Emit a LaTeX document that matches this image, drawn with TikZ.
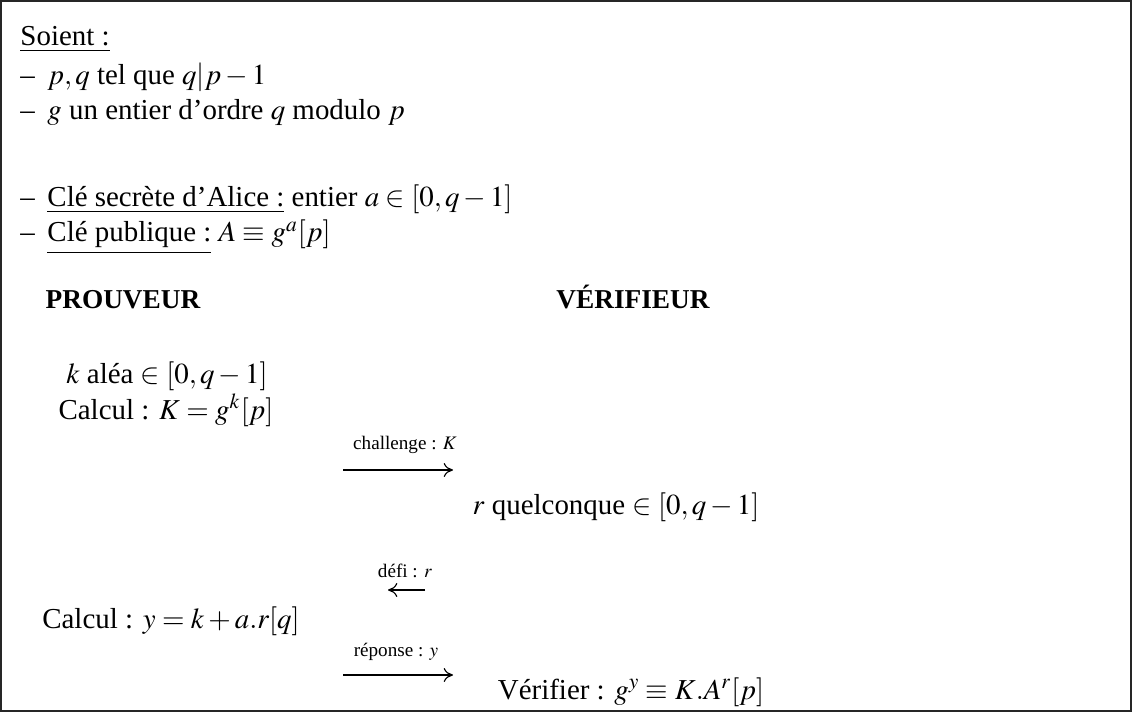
\documentclass[tikz,border=0pt]{standalone}
\usepackage{mathptmx}
\usepackage{fontspec}
\setmainfont{Liberation Serif}
\usetikzlibrary{arrows.meta}
\begin{document}
\begin{tikzpicture}[x=0.4286pt,y=-0.4286pt,
  txt/.style={inner sep=0pt,font=\fontsize{12.4}{14}\selectfont},
  lft/.style={txt,anchor=base west},
  ctr/.style={txt,anchor=base},
  head/.style={txt,anchor=base,font=\fontsize{11.7}{14}\selectfont\bfseries},
  lbl/.style={inner sep=0pt,anchor=base,font=\fontsize{8.2}{9.6}\selectfont},
  msg/.style={line width=0.5pt,-{Computer Modern Rightarrow[length=4pt,width=6pt]}}]
\useasboundingbox (0,0) rectangle (1134,713);
\draw[line width=0.6pt, black!85] (0.9,0.9) rectangle (1131,711);
% header
\node[lft] (soient) at (20,46) {\underline{Soient :}};
\node[lft] (d1) at (20,85) {--};
\node[lft] (l1) at (47,85) {$p, q$ tel que $q|p-1$};
\node[lft] (d2) at (20,120) {--};
\node[lft] (l2) at (47,120) {$g$ un entier d'ordre $q$ modulo $p$};
\node[lft] (d3) at (20,207) {--};
\node[lft] (l3) at (47,207) {\underline{Clé secrète d'Alice :} entier $a \in [0, q-1]$};
\node[lft] (d4) at (20,242) {--};
\node[lft] (l4) at (47,242) {\underline{Clé publique :} $A \equiv g^a[p]$};
% columns
\node[head] (prov) at (123,309) {PROUVEUR};
\node[head] (verif) at (633,309) {VÉRIFIEUR};
\node[ctr] (k) at (167,384) {$k$ aléa $\in [0, q-1]$};
\node[ctr] (calcK) at (166,419) {Calcul : $K = g^k[p]$};
\coordinate (a1s) at (343,470);
\coordinate (a1e) at (453,470);
\draw[msg] (a1s) -- (a1e);
\node[lbl] (l1lab) at (405,449) {challenge : $K$};
\node[ctr] (r) at (616,514) {$r$ quelconque $\in [0, q-1]$};
\coordinate (a2s) at (425,590);
\coordinate (a2e) at (388,590);
\draw[msg] (a2s) -- (a2e);
\node[lbl] (l2lab) at (405,577) {défi : $r$};
\node[ctr] (calcy) at (171,628) {Calcul : $y = k + a.r[q]$};
\coordinate (a3s) at (343,675);
\coordinate (a3e) at (453,675);
\draw[msg] (a3s) -- (a3e);
\node[lbl] (l3lab) at (396,656) {réponse : $y$};
\node[ctr] (ver) at (631,699) {Vérifier : $g^y \equiv K.A^r[p]$};
\end{tikzpicture}
\end{document}
